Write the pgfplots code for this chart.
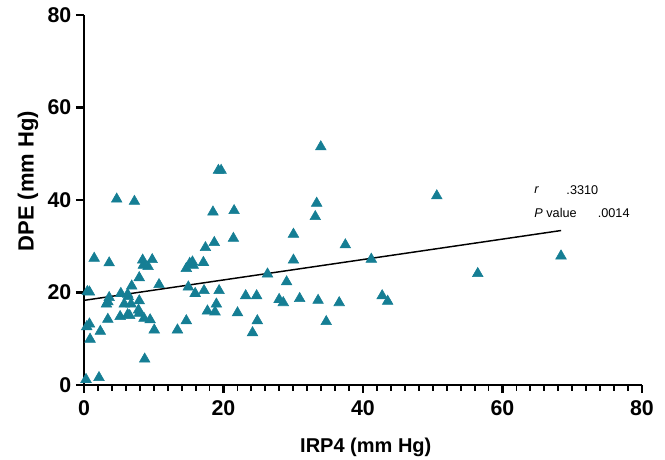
\documentclass[border=0pt]{standalone}
\usepackage{fontspec}
\setmainfont{Liberation Sans}
\usepackage{pgfplots}
\pgfplotsset{compat=1.18}
\definecolor{teal1}{RGB}{21,126,148}
\begin{document}
\begin{tikzpicture}
\begin{axis}[
  at={(0,0)}, anchor=south west,
  scale only axis,
  width=418.5pt, height=277.5pt,
  xmin=0, xmax=80, ymin=0, ymax=80,
  axis lines=left,
  axis line style={line width=1.8pt, -},
  clip=false,
  xtick={0,20,40,60,80}, ytick={0,20,40,60,80},
  minor x tick num=9,
  tick align=outside,
  major tick length=6pt,
  minor tick length=4.5pt,
  tick style={black, line width=1.6pt},
  minor tick style={black, line width=1.4pt},
  /pgf/number format/assume math mode=true,
  ticklabel style={font=\fontsize{16}{18}\selectfont\bfseries},
  xticklabel style={yshift=-2pt},
  xlabel={IRP4 (mm Hg)},
  ylabel={DPE (mm Hg)},
  xlabel style={font=\fontsize{15}{17}\selectfont\bfseries, at={(axis description cs:0.505,-0.168)}, anchor=center},
  ylabel style={font=\fontsize{16.5}{18}\selectfont\bfseries, at={(axis description cs:-0.1004,0.551)}, anchor=center},
]
\addplot[only marks, mark=triangle*, mark size=4.6pt, color=teal1, mark options={draw=teal1, fill=teal1}] coordinates {
(4.69,40.2)(7.23,39.7)(1.46,27.4)(3.61,26.4)(8.41,27.0)(9.78,27.1)(9.19,25.6)(8.51,25.9)
(7.92,23.2)(6.84,21.4)(10.76,21.7)(0.78,20.1)(0.48,20.2)(5.28,19.8)(6.26,19.6)(3.61,18.9)
(3.22,17.5)(3.42,18.0)(7.92,18.2)(5.77,17.5)(6.75,17.5)(6.35,19.1)(7.82,16.2)(7.92,15.5)
(5.18,14.8)(6.26,15.2)(6.55,15.0)(3.42,14.2)(8.60,14.4)(9.48,14.1)(10.07,11.9)(0.78,13.2)
(0.39,12.6)(2.34,11.6)(0.87,9.9)(8.70,5.6)(0.29,1.2)(2.15,1.6)
(15.16,26.3)(15.65,25.9)(14.67,25.2)(15.55,26.6)(14.96,21.2)(15.94,19.8)(14.67,13.9)(13.40,11.9)
(19.27,46.4)(19.66,46.4)(18.49,37.4)(21.52,37.7)(21.42,31.7)(18.68,30.8)(17.41,29.7)(17.12,26.5)
(26.31,24.0)(30.03,32.6)(30.03,27.0)(29.05,22.3)(33.36,39.3)(33.16,36.4)(19.37,20.4)(17.21,20.4)
(18.98,17.5)(17.70,16.0)(18.78,15.8)(23.18,19.3)(24.75,19.3)(22.01,15.6)(24.85,13.9)(24.16,11.3)
(27.98,18.5)(28.57,17.8)(30.92,18.7)(33.56,18.3)
(33.95,51.5)(37.47,30.3)(41.19,27.2)(50.58,40.9)(36.59,17.8)(34.73,13.7)(42.75,19.3)(43.54,18.1)
(56.45,24.1)(68.39,27.9)
};
\addplot[black, line width=1.1pt, mark=none] coordinates {(0,18.3)(68.4,33.4)};
\node[anchor=west, font=\fontsize{9.5}{11}\selectfont\itshape] at (axis cs:63.9,42.2) {r};
\node[anchor=west, font=\fontsize{9.5}{11}\selectfont] at (axis cs:68.5,42.2) {.3310};
\node[anchor=west, font=\fontsize{9.5}{11}\selectfont] at (axis cs:63.9,37.2) {\textit{P} value};
\node[anchor=west, font=\fontsize{9.5}{11}\selectfont] at (axis cs:73.0,37.2) {.0014};
\end{axis}
\pgfresetboundingbox
\path (-63pt,-56.25pt) rectangle (435.75pt,288.75pt);
\end{tikzpicture}
\end{document}
